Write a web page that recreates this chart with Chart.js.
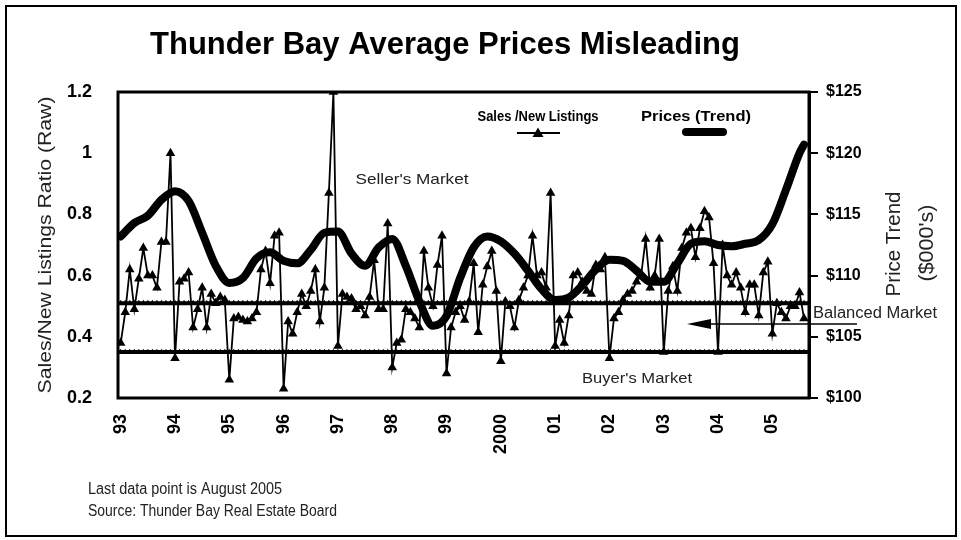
<!DOCTYPE html>
<html><head><meta charset="utf-8">
<script src="https://cdn.jsdelivr.net/npm/chart.js@4/dist/chart.umd.min.js"></script>
<style>html,body{margin:0;padding:0;background:#fff;}#wrap{width:961px;height:540px;}</style>
</head><body><div id="wrap"><canvas id="c" width="961" height="540"></canvas></div>
<script>
// ---- data ----
const yearLabels = ['93','94','95','96','97','98','99','2000','01','02','03','04','05'];
const yearStartMonths = [0,12,24,36,48,60,72,84,96,108,120,132,144];
// Sales / New Listings ratio, monthly Jan 1993 .. Aug 2005
const salesRatio = [
  0.38,0.48,0.62,0.49,0.59,0.69,0.60,0.60,0.56,0.71,0.71,1.00,
  0.33,0.58,0.59,0.61,0.43,0.49,0.56,0.43,0.54,0.51,0.53,0.52,
  0.26,0.46,0.465,0.455,0.45,0.46,0.48,0.62,0.68,0.575,0.73,0.74,
  0.23,0.45,0.41,0.48,0.54,0.50,0.55,0.62,0.45,0.56,0.87,1.20,
  0.37,0.54,0.53,0.525,0.49,0.50,0.47,0.53,0.65,0.49,0.49,0.77,
  0.30,0.38,0.39,0.49,0.48,0.46,0.43,0.68,0.56,0.50,0.635,0.73,
  0.28,0.43,0.48,0.50,0.455,0.515,0.64,0.415,0.57,0.63,0.68,0.55,
  0.32,0.515,0.50,0.43,0.52,0.56,0.60,0.73,0.60,0.61,0.56,0.87,
  0.37,0.455,0.38,0.47,0.60,0.61,0.58,0.55,0.54,0.635,0.62,0.66,
  0.33,0.46,0.48,0.52,0.54,0.55,0.58,0.60,0.72,0.56,0.60,0.72,
  0.35,0.55,0.63,0.55,0.69,0.74,0.755,0.66,0.755,0.81,0.79,0.64,
  0.35,0.70,0.60,0.57,0.61,0.56,0.48,0.57,0.57,0.47,0.61,0.645,
  0.41,0.51,0.48,0.46,0.50,0.50,0.545,0.46
];
// Price trend ($000's)
const priceMonths = [0,3,6,9,12,15,18,21,24,27,30,33,36,39,42,45,48,51,54,57,60,63,66,69,72,75,78,81,84,87,90,93,96,99,102,105,108,111,114,117,120,123,126,129,132,135,138,141,144,147,150,151];
const priceTrend = [113.2,114.3,114.9,116.2,116.9,116.1,113.5,110.8,109.4,109.8,111.4,111.9,111.2,111.0,112.1,113.5,113.6,111.8,110.8,112.3,113.0,110.8,107.9,105.9,106.7,109.8,112.3,113.2,112.8,111.8,110.4,108.9,108.0,108.2,109.2,110.5,111.3,111.2,110.4,109.5,109.5,111.0,112.6,112.8,112.5,112.4,112.6,112.9,114.2,117.0,120.0,120.7];
const balancedLevel = 0.51;
const buyerLevel = 0.35;
const leftTickLabels = {'0.2':'0.2','0.4':'0.4','0.6':'0.6','0.8':'0.8','1':'1','1.2':'1.2'};

// ---- helpers ----
const FAM = "'Liberation Sans', Arial, Helvetica, sans-serif";
function drawText(ctx, text, x, y, o) {
  ctx.save();
  ctx.font = (o.weight || 'normal') + ' ' + o.size + 'px ' + FAM;
  ctx.fillStyle = o.color || '#000';
  ctx.textBaseline = o.baseline || 'middle';
  const w = ctx.measureText(text).width;
  const sx = o.width ? o.width / w : 1;
  ctx.translate(x, y);
  if (o.rotate) ctx.rotate(o.rotate);
  ctx.scale(sx, 1);
  let align = o.align || 'center';
  let dx = align === 'center' ? -w / 2 : (align === 'right' ? -w : 0);
  ctx.textAlign = 'left';
  ctx.fillText(text, dx, 0);
  ctx.restore();
}
const levelLine = (lvl) => { const a = []; for (let m = -1; m <= 153; m++) a.push({x: m, y: lvl}); return a; };

const decor = {
  id: 'decor',
  afterDraw(chart) {
    const ctx = chart.ctx, a = chart.chartArea;
    ctx.save();
    // frame
    ctx.strokeStyle = '#000'; ctx.lineWidth = 2;
    ctx.strokeRect(6, 6, 950, 530);
    // plot box
    ctx.lineWidth = 3;
    ctx.strokeRect(a.left, a.top, a.right - a.left, a.bottom - a.top);
    // title
    drawText(ctx, 'Thunder Bay Average Prices Misleading', 445, 54, {size: 32, weight: 'bold', width: 590, baseline: 'alphabetic'});
    // legend
    drawText(ctx, 'Sales /New Listings', 538, 117, {size: 15, weight: 'bold', width: 121});
    drawText(ctx, 'Prices (Trend)', 696, 117, {size: 15, weight: 'bold', width: 110});
    ctx.strokeStyle = '#000'; ctx.lineWidth = 1.8;
    ctx.beginPath(); ctx.moveTo(517, 133); ctx.lineTo(560, 133); ctx.stroke();
    ctx.fillStyle = '#000';
    ctx.beginPath(); ctx.moveTo(538, 127.5); ctx.lineTo(543.5, 137); ctx.lineTo(532.5, 137); ctx.closePath(); ctx.fill();
    ctx.lineWidth = 8; ctx.lineCap = 'round';
    ctx.beginPath(); ctx.moveTo(686, 132); ctx.lineTo(723, 132); ctx.stroke();
    ctx.lineCap = 'butt';
    // annotations
    drawText(ctx, "Seller's Market", 412, 180, {size: 15, width: 113, color: '#222'});
    drawText(ctx, "Buyer's Market", 637, 379, {size: 15, width: 110, color: '#222'});
    drawText(ctx, 'Balanced Market', 875, 314, {size: 16, width: 124, color: '#222'});
    // arrow
    ctx.lineWidth = 1.5; ctx.strokeStyle = '#000';
    ctx.beginPath(); ctx.moveTo(857, 324); ctx.lineTo(708, 324); ctx.stroke();
    ctx.beginPath(); ctx.moveTo(687, 324); ctx.lineTo(711, 319); ctx.lineTo(711, 329); ctx.closePath(); ctx.fill();
    // axis titles
    drawText(ctx, 'Sales/New Listings Ratio (Raw)', 46, 245, {size: 19, width: 297, rotate: -Math.PI / 2, color: '#222'});
    drawText(ctx, 'Price Trend', 894, 244, {size: 20, width: 105, rotate: -Math.PI / 2, color: '#222'});
    drawText(ctx, "($000's)", 927, 243, {size: 20, width: 77, rotate: -Math.PI / 2, color: '#222'});
    // footer
    drawText(ctx, 'Last data point is August 2005', 88, 490, {size: 16, width: 194, align: 'left', color: '#222'});
    drawText(ctx, 'Source: Thunder Bay Real Estate Board', 88, 512, {size: 16, width: 249, align: 'left', color: '#222'});
    ctx.restore();
  }
};

new Chart(document.getElementById('c'), {
  type: 'line',
  data: {
    datasets: [
      {
        label: 'Sales /New Listings',
        data: salesRatio.map((v, i) => ({x: i, y: v})),
        yAxisID: 'y', borderColor: '#000', borderWidth: 1.8,
        pointStyle: 'triangle', pointRadius: 5.5, pointBackgroundColor: '#000', pointBorderColor: '#000', pointBorderWidth: 0,
        tension: 0, order: 1
      },
      {
        label: 'Prices (Trend)',
        data: priceMonths.map((m, k) => ({x: m, y: priceTrend[k]})),
        yAxisID: 'y2', borderColor: '#000', borderWidth: 8, pointRadius: 0,
        cubicInterpolationMode: 'monotone', borderCapStyle: 'round', borderJoinStyle: 'round', order: 2
      },
      {
        label: 'Balanced',
        data: levelLine(balancedLevel), yAxisID: 'y', borderColor: '#000', borderWidth: 4,
        pointStyle: 'triangle', pointRadius: 3.4, pointBackgroundColor: '#000', pointBorderWidth: 0, order: 3
      },
      {
        label: 'Buyer',
        data: levelLine(buyerLevel), yAxisID: 'y', borderColor: '#000', borderWidth: 4,
        pointStyle: 'triangle', pointRadius: 3.4, pointBackgroundColor: '#000', pointBorderWidth: 0, order: 4
      }
    ]
  },
  options: {
    responsive: false, animation: false, devicePixelRatio: 1,
    layout: {padding: {top: 92, right: 0, left: 0, bottom: 0}},
    plugins: {legend: {display: false}, tooltip: {enabled: false}, title: {display: false}},
    scales: {
      x: {
        type: 'linear', min: -0.6, max: 152.1,
        afterBuildTicks: (s) => { s.ticks = yearStartMonths.map(v => ({value: v})); },
        afterFit: (s) => { s.height = 142; },
        grid: {display: false}, border: {display: false},
        ticks: {
          autoSkip: false, minRotation: 90, maxRotation: 90, padding: 8, color: '#000',
          font: {family: FAM, size: 18, weight: 'bold'},
          callback: (v) => yearLabels[yearStartMonths.indexOf(v)]
        }
      },
      y: {
        position: 'left', min: 0.2, max: 1.2,
        afterFit: (s) => { s.width = 118; },
        grid: {display: false}, border: {display: false},
        ticks: {
          stepSize: 0.2, padding: 18, color: '#000',
          font: {family: FAM, size: 18, weight: 'bold'},
          callback: (v) => leftTickLabels[String(Math.round(v * 10) / 10)]
        }
      },
      y2: {
        position: 'right', min: 100, max: 125,
        afterFit: (s) => { s.width = 152; },
        grid: {display: true, drawOnChartArea: false, drawTicks: true, tickLength: 9, color: '#000', lineWidth: 2},
        border: {display: true, color: '#000', width: 3},
        ticks: {
          stepSize: 5, padding: 8, color: '#000',
          font: {family: FAM, size: 16, weight: 'bold'},
          callback: (v) => '$' + v
        }
      }
    }
  },
  plugins: [decor]
});
</script>
</body></html>
